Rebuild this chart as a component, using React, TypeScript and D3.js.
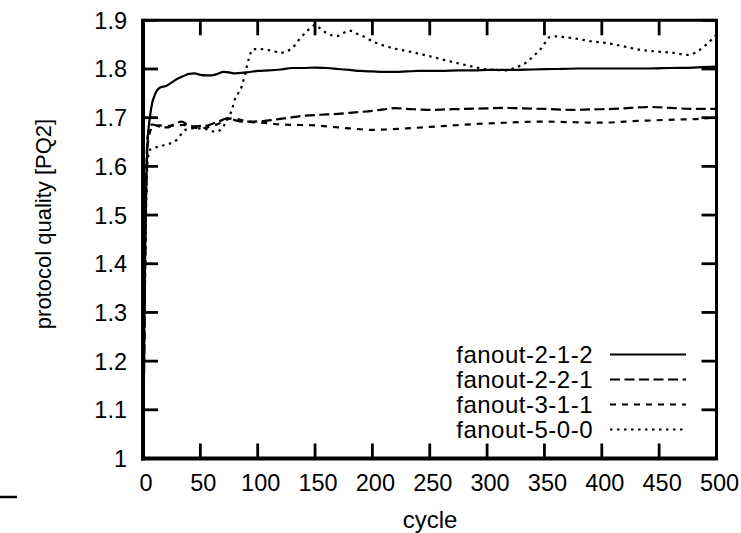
import React from "react";
import * as d3 from "d3";

type P = [number, number];

const xTicks = [0, 50, 100, 150, 200, 250, 300, 350, 400, 450, 500];
const yTicks = [1, 1.1, 1.2, 1.3, 1.4, 1.5, 1.6, 1.7, 1.8, 1.9];
const seriesNames = ["fanout-2-1-2", "fanout-2-2-1", "fanout-3-1-1", "fanout-5-0-0"];

const fanout212: P[] = [
  [0, 1.0], [1, 1.25], [2, 1.45], [3, 1.58], [4, 1.65], [6, 1.7], [8, 1.73], [10, 1.745], [12, 1.755],
  [15, 1.762], [20, 1.765], [25, 1.772], [30, 1.78], [35, 1.785], [40, 1.79], [45, 1.791], [50, 1.788],
  [55, 1.787], [60, 1.787], [65, 1.79], [70, 1.794], [75, 1.793], [80, 1.791], [90, 1.793], [100, 1.796],
  [110, 1.797], [120, 1.799], [130, 1.802], [140, 1.802], [150, 1.803], [160, 1.802], [170, 1.8],
  [180, 1.798], [190, 1.796], [200, 1.795], [210, 1.794], [220, 1.794], [230, 1.795], [240, 1.796],
  [250, 1.796], [260, 1.796], [275, 1.797], [290, 1.797], [300, 1.798], [320, 1.798], [340, 1.799],
  [360, 1.8], [380, 1.801], [400, 1.801], [420, 1.801], [440, 1.801], [460, 1.802], [480, 1.803], [500, 1.805],
];

const fanout221: P[] = [
  [0, 1.0], [1, 1.2], [2, 1.45], [3, 1.6], [4, 1.66], [6, 1.68], [8, 1.686], [10, 1.685], [14, 1.682],
  [18, 1.68], [22, 1.68], [26, 1.685], [30, 1.69], [34, 1.692], [38, 1.686], [44, 1.682], [50, 1.683],
  [56, 1.684], [62, 1.689], [68, 1.694], [74, 1.699], [80, 1.695], [86, 1.692], [95, 1.692], [105, 1.693],
  [115, 1.696], [125, 1.699], [140, 1.704], [155, 1.706], [170, 1.708], [185, 1.711], [200, 1.714],
  [210, 1.717], [220, 1.7195], [230, 1.718], [240, 1.717], [250, 1.716], [265, 1.717], [280, 1.718],
  [300, 1.719], [315, 1.72], [330, 1.719], [350, 1.718], [375, 1.716], [390, 1.717], [410, 1.718],
  [425, 1.72], [442, 1.722], [460, 1.72], [480, 1.718], [500, 1.718],
];

const fanout311: P[] = [
  [0, 1.0], [1, 1.2], [2, 1.42], [3, 1.57], [4, 1.64], [6, 1.67], [9, 1.682], [14, 1.684], [20, 1.683],
  [28, 1.684], [35, 1.685], [42, 1.681], [50, 1.678], [56, 1.68], [62, 1.684], [68, 1.69], [74, 1.697],
  [79, 1.699], [86, 1.695], [95, 1.691], [108, 1.689], [120, 1.686], [137, 1.685], [150, 1.684],
  [165, 1.681], [180, 1.678], [200, 1.675], [215, 1.676], [230, 1.678], [250, 1.681], [270, 1.684],
  [290, 1.687], [310, 1.689], [330, 1.691], [346, 1.692], [370, 1.691], [390, 1.69], [404, 1.69],
  [420, 1.692], [440, 1.694], [463, 1.696], [480, 1.697], [492, 1.699], [500, 1.7],
];

const fanout500: P[] = [
  [0, 1.0], [1, 1.2], [2, 1.4], [3, 1.55], [4, 1.61], [6, 1.634], [10, 1.638], [16, 1.642], [22, 1.646],
  [26, 1.649], [30, 1.656], [33, 1.665], [37, 1.675], [44, 1.678], [50, 1.678], [56, 1.676], [63, 1.671],
  [69, 1.678], [72, 1.69], [75, 1.702], [78, 1.72], [80, 1.737], [83, 1.75], [86, 1.764], [89, 1.79],
  [92, 1.819], [96, 1.841], [102, 1.841], [109, 1.839], [115, 1.836], [120, 1.833], [125, 1.836],
  [131, 1.845], [136, 1.86], [143, 1.878], [148, 1.888], [150, 1.891], [155, 1.882], [160, 1.874],
  [165, 1.869], [170, 1.868], [175, 1.874], [180, 1.879], [186, 1.873], [192, 1.867], [200, 1.857],
  [210, 1.848], [221, 1.841], [232, 1.836], [245, 1.829], [260, 1.82], [274, 1.812], [285, 1.806],
  [297, 1.8], [308, 1.798], [317, 1.797], [325, 1.803], [335, 1.815], [341, 1.828], [346, 1.839],
  [350, 1.852], [355, 1.866], [360, 1.867], [368, 1.865], [376, 1.863], [390, 1.857], [405, 1.853],
  [420, 1.846], [434, 1.839], [448, 1.836], [463, 1.833], [475, 1.829], [482, 1.834], [489, 1.846],
  [494, 1.856], [498, 1.866], [500, 1.87],
];

const seriesData = [fanout212, fanout221, fanout311, fanout500];
const dashes = ["none", "10,4.5", "6,6", "2.5,4.5"];

const W = 741;
const H = 533;
const L = 143;
const R = 716.5;
const T = 20.3;
const B = 458.5;
const FONT = "'Liberation Sans', Arial, Helvetica, sans-serif";

export default function App() {
  const x = d3.scaleLinear().domain([0, 500]).range([L, R]);
  const y = d3.scaleLinear().domain([1, 1.9]).range([B, T]);
  const line = d3
    .line<P>()
    .x((d) => x(d[0]))
    .y((d) => y(d[1]))
    .curve(d3.curveMonotoneX);
  const tickLen = 15;

  return (
    <svg
      width={W}
      height={H}
      viewBox={`0 0 ${W} ${H}`}
      style={{ position: "absolute", left: 0, top: 0, background: "#fff" }}
    >
      <defs>
        <clipPath id="plotclip">
          <rect x={L} y={T - 2} width={R - L} height={B - T + 2} />
        </clipPath>
      </defs>
      <rect x={0} y={0} width={W} height={H} fill="#fff" />

      {/* curves */}
      <g clipPath="url(#plotclip)" fill="none" stroke="#000" strokeWidth={2.2}>
        {seriesData.map((s, i) => (
          <path key={i} d={line(s) || ""} strokeDasharray={dashes[i]} strokeLinejoin="round" />
        ))}
      </g>

      {/* ticks */}
      <g stroke="#000" strokeWidth={2.8}>
        {xTicks.map((t) => (
          <g key={"xt" + t}>
            <line x1={x(t)} x2={x(t)} y1={B} y2={B - tickLen} />
            <line x1={x(t)} x2={x(t)} y1={T} y2={T + tickLen} />
          </g>
        ))}
        {yTicks.map((t) => (
          <g key={"yt" + t}>
            <line x1={L} x2={L + tickLen} y1={y(t)} y2={y(t)} />
            <line x1={R} x2={R - tickLen} y1={y(t)} y2={y(t)} />
          </g>
        ))}
      </g>

      {/* border */}
      <g stroke="#000" fill="none">
        <line x1={L} x2={R + 1.5} y1={T} y2={T} strokeWidth={3} />
        <line x1={R} x2={R} y1={T} y2={B} strokeWidth={3} />
        <line x1={L - 2} x2={R + 1.5} y1={B} y2={B} strokeWidth={4} />
        <line x1={L} x2={L} y1={T - 1.5} y2={B + 2} strokeWidth={4} />
      </g>

      {/* tick labels */}
      <g fontFamily={FONT} fontSize={23.5} fill="#000">
        {xTicks.map((t) => (
          <text key={"xl" + t} x={x(t) + 3} y={491} textAnchor="middle">
            {t}
          </text>
        ))}
        {yTicks.map((t) => (
          <text key={"yl" + t} x={127} y={y(t)} dy="0.36em" textAnchor="end">
            {d3.format("")(t)}
          </text>
        ))}
      </g>

      {/* axis titles */}
      <text x={430} y={528} textAnchor="middle" fontFamily={FONT} fontSize={24} fill="#000">
        cycle
      </text>
      <text
        transform={`translate(50.5,224) rotate(-90)`}
        textAnchor="middle"
        fontFamily={FONT}
        fontSize={22}
        fill="#000"
      >
        protocol quality [PQ2]
      </text>

      {/* legend */}
      <g fontFamily={FONT} fontSize={24} letterSpacing={0.5} fill="#000">
        {seriesNames.map((n, i) => (
          <g key={n}>
            <text x={593} y={363.3 + i * 25} textAnchor="end">
              {n}
            </text>
            <line
              x1={610}
              x2={686}
              y1={354.5 + i * 25}
              y2={354.5 + i * 25}
              stroke="#000"
              strokeWidth={2.2}
              strokeDasharray={dashes[i]}
            />
          </g>
        ))}
      </g>

      {/* stray mark at lower left */}
      <line x1={0} x2={17} y1={497} y2={497} stroke="#000" strokeWidth={2.5} />
    </svg>
  );
}
